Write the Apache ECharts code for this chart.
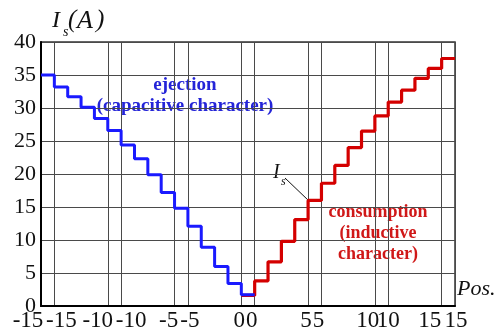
<!DOCTYPE html>
<html><head><meta charset="utf-8">
<script src="https://cdn.jsdelivr.net/npm/echarts@6/dist/echarts.min.js"></script>
<style>html,body{margin:0;padding:0;background:#fff}#c{width:497px;height:333px}</style>
</head><body><div id="c"></div>
<script>
// ---- data ----
const ejectionPositions = [-15,-14,-13,-12,-11,-10,-9,-8,-7,-6,-5,-4,-3,-2,-1,0];
const ejectionCurrent   = [35.0,33.2,31.7,30.1,28.4,26.6,24.4,22.3,19.9,17.2,14.8,12.1,8.9,6.0,3.4,1.7];
const consumptionPositions = [0,1,2,3,4,5,6,7,8,9,10,11,12,13,14,15];
const consumptionCurrent   = [1.6,3.8,6.7,9.8,13.1,16.0,18.6,21.3,24.0,26.5,28.8,30.9,32.7,34.5,36.0,37.5];
const labelledPositions = [-15,-10,-5,0,5,10,15];
const xTickLabels = ['-15','-15','-10','-10','-5','-5','0','0','5','5','10','10','15','15'];
const yMin = 0, yMax = 40, yStep = 5;

// ---- layout / style ----
const serif = "'Liberation Serif','Times New Roman',serif";
const labelShift = [-13,7,-10,10,-6,2,-2,-3,-2,-3,-7,0,-12,1];

function stepData(pos, val) {
  const d = pos.map((p, i) => [p - 0.5, val[i]]);
  d.push([pos[pos.length - 1] + 0.5, val[val.length - 1]]);
  return d;
}
const xTickValues = [];
labelledPositions.forEach(p => { xTickValues.push(p - 0.5, p + 0.5); });
const rich = {};
labelShift.forEach((d, i) => {
  rich['t' + i] = {
    fontSize: 23, fontFamily: serif, color: '#111',
    padding: d > 0 ? [0, 0, 0, 2 * d] : [0, -2 * d, 0, 0]
  };
});

const chart = echarts.init(document.getElementById('c'), null, {renderer: 'canvas'});
const gridColor = '#4a4a4a';
chart.setOption({
  animation: false,
  backgroundColor: '#fff',
  grid: {left: 41, right: 42, top: 42, bottom: 27, show: true, borderColor: '#333', borderWidth: 1.5, outerBoundsMode: 'none'},
  xAxis: {
    type: 'value',
    min: labelledPositions[0] - 0.5,
    max: labelledPositions[labelledPositions.length - 1] + 0.5,
    axisLine: {show: true, onZero: false, lineStyle: {color: '#000', width: 2}},
    axisTick: {show: false, customValues: xTickValues},
    splitLine: {show: true, lineStyle: {color: gridColor, width: 1}},
    axisLabel: {
      customValues: xTickValues,
      margin: 3,
      fontSize: 23, fontFamily: serif, color: '#111',
      formatter: function (v) {
        let i = xTickValues.findIndex(t => Math.abs(t - v) < 1e-6);
        return '{t' + i + '|' + xTickLabels[i] + '}';
      },
      rich: rich
    }
  },
  yAxis: {
    type: 'value', min: yMin, max: yMax, interval: yStep,
    axisLine: {show: true, onZero: false, lineStyle: {color: '#000', width: 2}},
    axisTick: {show: false},
    splitLine: {show: true, lineStyle: {color: gridColor, width: 1}},
    axisLabel: {fontSize: 22, fontFamily: serif, color: '#111', margin: 5}
  },
  series: [
    {type: 'line', step: 'end', data: stepData(consumptionPositions, consumptionCurrent),
     symbol: 'none', lineStyle: {color: '#d40000', width: 3.2}, z: 3},
    {type: 'line', step: 'end', data: stepData(ejectionPositions, ejectionCurrent),
     symbol: 'none', lineStyle: {color: '#1a1aff', width: 3}, z: 4}
  ],
  graphic: [
    {type: 'text', left: 52, top: 9, style: {text: 'I', font: 'italic 24px ' + serif, fill: '#111'}},
    {type: 'text', left: 63, top: 25, style: {text: 's', font: 'italic 14px ' + serif, fill: '#111'}},
    {type: 'text', left: 68, top: 8, style: {text: '(', font: 'italic 25px ' + serif, fill: '#111'}},
    {type: 'text', left: 77, top: 8, style: {text: 'A', font: 'italic 26px ' + serif, fill: '#111'}},
    {type: 'text', left: 96, top: 8, style: {text: ')', font: 'italic 25px ' + serif, fill: '#111'}},
    {type: 'text', left: 457, top: 278, style: {text: 'Pos.', font: 'italic 22px ' + serif, fill: '#111'}},
    {type: 'text', left: 273, top: 163, style: {text: 'I', font: 'italic 20px ' + serif, fill: '#111'}},
    {type: 'text', left: 281, top: 176, style: {text: 's', font: 'italic 12px ' + serif, fill: '#111'}},
    {type: 'line', shape: {x1: 285, y1: 178, x2: 309, y2: 201}, style: {stroke: '#111', lineWidth: 1}},
    {type: 'text', x: 185, y: 75, style: {text: 'ejection\n(capacitive character)', font: 'bold 19px ' + serif, fill: '#2424d8', align: 'center', lineHeight: 21}},
    {type: 'text', x: 378, y: 202, style: {text: 'consumption\n(inductive\ncharacter)', font: 'bold 18px ' + serif, fill: '#d01818', align: 'center', lineHeight: 21}}
  ]
});
</script></body></html>
